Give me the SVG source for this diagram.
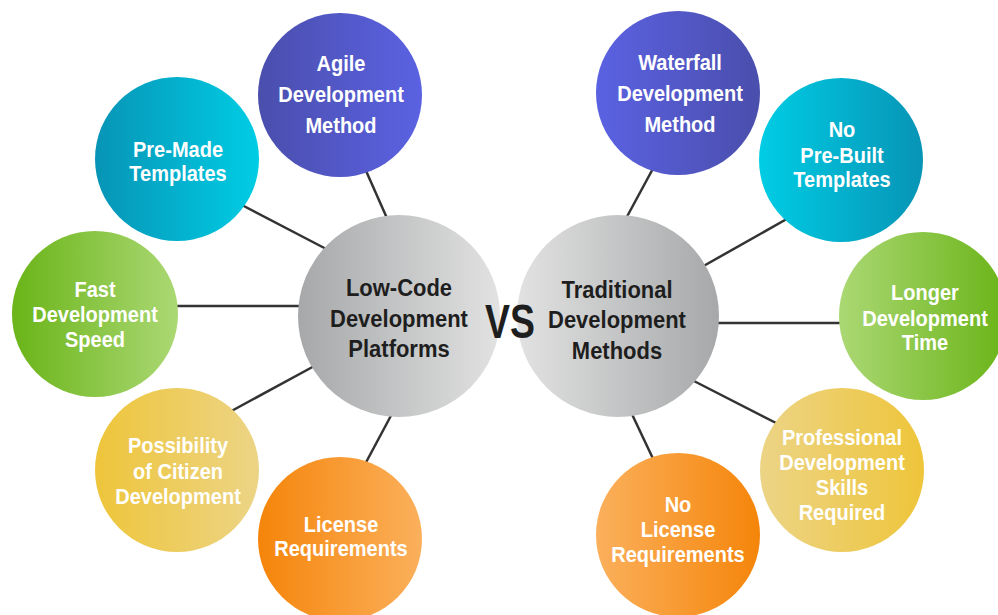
<svg xmlns="http://www.w3.org/2000/svg" width="998" height="615" viewBox="0 0 998 615">
<style>
.lbl{font-family:"Liberation Sans",Arial,sans-serif;font-weight:bold;font-size:22px;fill:#ffffff;text-anchor:middle}
.ctr{font-family:"Liberation Sans",Arial,sans-serif;font-weight:bold;font-size:24px;fill:#1e1e1e;text-anchor:middle}
.vs{font-family:"Liberation Sans",Arial,sans-serif;font-weight:bold;font-size:48px;fill:#1e1e1e;text-anchor:middle}
.con line{stroke:#333333;stroke-width:2.5}
</style>
<defs>
<linearGradient id="purpleL" x1="0" y1="0" x2="1" y2="0"><stop offset="0" stop-color="#4a4eac"/><stop offset="1" stop-color="#5b62e2"/></linearGradient>
<linearGradient id="purpleR" x1="1" y1="0" x2="0" y2="0"><stop offset="0" stop-color="#4a4eac"/><stop offset="1" stop-color="#5b62e2"/></linearGradient>
<linearGradient id="tealL" x1="0" y1="0" x2="1" y2="0"><stop offset="0" stop-color="#0794b6"/><stop offset="1" stop-color="#00cde4"/></linearGradient>
<linearGradient id="tealR" x1="1" y1="0" x2="0" y2="0"><stop offset="0" stop-color="#0794b6"/><stop offset="1" stop-color="#00cde4"/></linearGradient>
<linearGradient id="greenL" x1="0" y1="0" x2="1" y2="0"><stop offset="0" stop-color="#6ab418"/><stop offset="1" stop-color="#abd874"/></linearGradient>
<linearGradient id="greenR" x1="1" y1="0" x2="0" y2="0"><stop offset="0" stop-color="#6ab418"/><stop offset="1" stop-color="#abd874"/></linearGradient>
<linearGradient id="yellowL" x1="0" y1="0" x2="1" y2="0"><stop offset="0" stop-color="#eec53a"/><stop offset="1" stop-color="#ecd486"/></linearGradient>
<linearGradient id="yellowR" x1="1" y1="0" x2="0" y2="0"><stop offset="0" stop-color="#eec53a"/><stop offset="1" stop-color="#ecd486"/></linearGradient>
<linearGradient id="orangeL" x1="0" y1="0" x2="1" y2="0"><stop offset="0" stop-color="#f5850a"/><stop offset="1" stop-color="#fbb05c"/></linearGradient>
<linearGradient id="orangeR" x1="1" y1="0" x2="0" y2="0"><stop offset="0" stop-color="#f5850a"/><stop offset="1" stop-color="#fbb05c"/></linearGradient>
<linearGradient id="greyL" x1="0" y1="0" x2="1" y2="0"><stop offset="0" stop-color="#a6a8a9"/><stop offset="1" stop-color="#e2e2e2"/></linearGradient>
<linearGradient id="greyR" x1="1" y1="0" x2="0" y2="0"><stop offset="0" stop-color="#a6a8a9"/><stop offset="1" stop-color="#e2e2e2"/></linearGradient>
</defs>
<rect width="998" height="615" fill="#ffffff"/>

<g id="connectors" class="con">
<line x1="363" y1="164" x2="390" y2="225"/>
<line x1="238" y1="203" x2="332" y2="252"/>
<line x1="170" y1="306" x2="305" y2="306"/>
<line x1="226" y1="414" x2="318" y2="364"/>
<line x1="363" y1="468" x2="394" y2="410"/>
<line x1="656" y1="163" x2="623" y2="224"/>
<line x1="792" y1="216" x2="700" y2="268"/>
<line x1="712" y1="323" x2="848" y2="323"/>
<line x1="690" y1="379" x2="782" y2="426"/>
<line x1="630" y1="410" x2="656" y2="465"/>
</g>

<g id="agile">
<circle cx="340" cy="95" r="82" fill="url(#purpleL)"/>
<g transform="translate(341 0) scale(0.91 1)"><text class="lbl" x="0" y="71">Agile</text><text class="lbl" x="0" y="102">Development</text><text class="lbl" x="0" y="133">Method</text></g>
</g>
<g id="premade">
<circle cx="177" cy="159" r="82" fill="url(#tealL)"/>
<g transform="translate(178 0) scale(0.91 1)"><text class="lbl" x="0" y="157">Pre-Made</text><text class="lbl" x="0" y="181">Templates</text></g>
</g>
<g id="fast">
<circle cx="95" cy="314" r="83" fill="url(#greenL)"/>
<g transform="translate(95 0) scale(0.91 1)"><text class="lbl" x="0" y="297">Fast</text><text class="lbl" x="0" y="322">Development</text><text class="lbl" x="0" y="347">Speed</text></g>
</g>
<g id="citizen">
<circle cx="177" cy="470" r="82" fill="url(#yellowL)"/>
<g transform="translate(178 0) scale(0.91 1)"><text class="lbl" x="0" y="453">Possibility</text><text class="lbl" x="0" y="479">of Citizen</text><text class="lbl" x="0" y="504">Development</text></g>
</g>
<g id="license">
<circle cx="340" cy="539" r="82" fill="url(#orangeL)"/>
<g transform="translate(341 0) scale(0.91 1)"><text class="lbl" x="0" y="532">License</text><text class="lbl" x="0" y="556">Requirements</text></g>
</g>

<g id="waterfall">
<circle cx="678" cy="93" r="82" fill="url(#purpleR)"/>
<g transform="translate(680 0) scale(0.91 1)"><text class="lbl" x="0" y="70">Waterfall</text><text class="lbl" x="0" y="101">Development</text><text class="lbl" x="0" y="132">Method</text></g>
</g>
<g id="noprebuilt">
<circle cx="841" cy="160" r="82" fill="url(#tealR)"/>
<g transform="translate(842 0) scale(0.91 1)"><text class="lbl" x="0" y="137">No</text><text class="lbl" x="0" y="163">Pre-Built</text><text class="lbl" x="0" y="187">Templates</text></g>
</g>
<g id="longer">
<circle cx="923" cy="316" r="84" fill="url(#greenR)"/>
<g transform="translate(925 0) scale(0.91 1)"><text class="lbl" x="0" y="300">Longer</text><text class="lbl" x="0" y="326">Development</text><text class="lbl" x="0" y="350">Time</text></g>
</g>
<g id="professional">
<circle cx="842" cy="470" r="82" fill="url(#yellowR)"/>
<g transform="translate(842 0) scale(0.91 1)"><text class="lbl" x="0" y="445">Professional</text><text class="lbl" x="0" y="470">Development</text><text class="lbl" x="0" y="495">Skills</text><text class="lbl" x="0" y="520">Required</text></g>
</g>
<g id="nolicense">
<circle cx="678" cy="535" r="82" fill="url(#orangeR)"/>
<g transform="translate(678 0) scale(0.91 1)"><text class="lbl" x="0" y="512">No</text><text class="lbl" x="0" y="537">License</text><text class="lbl" x="0" y="562">Requirements</text></g>
</g>

<g id="lowcode">
<circle cx="399" cy="316" r="101" fill="url(#greyL)"/>
<g transform="translate(399 0) scale(0.915 1)"><text class="ctr" x="0" y="296">Low-Code</text><text class="ctr" x="0" y="327">Development</text><text class="ctr" x="0" y="357">Platforms</text></g>
</g>
<g id="traditional">
<circle cx="618" cy="316" r="101" fill="url(#greyR)"/>
<g transform="translate(617 0) scale(0.915 1)"><text class="ctr" x="0" y="298">Traditional</text><text class="ctr" x="0" y="328">Development</text><text class="ctr" x="0" y="359">Methods</text></g>
</g>
<g id="vs">
<g transform="translate(510 0) scale(0.78 1)"><text class="vs" x="0" y="338">VS</text></g>
</g>
</svg>
